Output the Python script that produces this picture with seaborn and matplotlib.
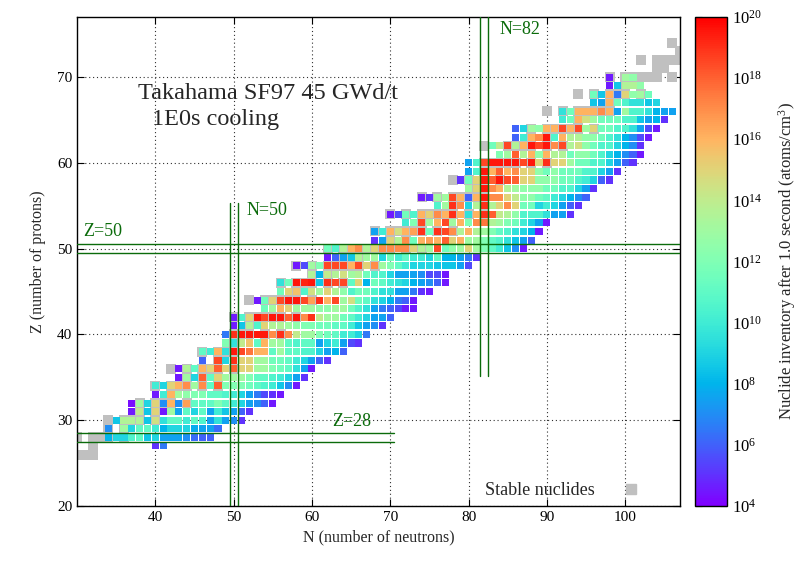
import numpy as np
import pandas as pd
import matplotlib
matplotlib.use("Agg")
import matplotlib.pyplot as plt
import seaborn as sns
from matplotlib.colors import LogNorm
from matplotlib.lines import Line2D
from matplotlib.ticker import FixedLocator, NullFormatter
import matplotlib.cm as cm

# ---------------- data (log10 of inventory, atoms/cm^3) ----------------
row_z = [27, 28, 29, 30, 31, 32, 33, 34, 35, 36, 37, 38, 39, 40, 41, 42, 43, 44,
         45, 46, 47, 48, 49, 50, 51, 52, 53, 54, 55, 56, 57, 58, 59, 60, 61, 62,
         63, 64, 65, 66, 67, 68, 69, 70]
row_n_start = [40, 34, 34, 35, 37, 37, 40, 40, 43, 43, 46, 46, 49, 49, 50, 50, 54, 53,
               56, 56, 60, 58, 62, 62, 68, 68, 72, 70, 76, 74, 80, 79, 80, 80, 84, 83,
               86, 86, 92, 92, 96, 96, 98, 98]
row_log_inventory = [
    [5, 6.5],
    [8, 9, 9, 10.5, 11, 8.5, 9, 7.5, 7.5, 7.5, 7, 6.2, 6, 6],
    [7, None, 13, 9, 11, 11, 10, 8, 9, 9, 9, 7.8, 7.5, 7.5, 6.3],
    [8.5, 13.5, 13.5, 13.5, 8.5, 14.5, 9.5, 11, 11, 10, 11, 10.5, 7.5, 9.5, 7.5, 7, 5],
    [4.5, 14, 8.5, 15, 4.5, 13, 7.5, 11, 9, 11, 7.5, 10, 8.5, 7.5, 6, 5],
    [4.3, 13, 9, 15, 7, 16, 7, 16.5, 11, 11, 11, 12, 11, 10, 9, 7.5, 7, 6, 4.5],
    [4.5, 10, 16, 13, 12.5, 12, 12, 11, 11, 10.5, 10, 9, 7.5, 6.5, 5.5, 5, 4.5],
    [10, 9, 15, 16, 17, 13, 17, 11, 18, 12, 12, 12, 11.5, 11, 10.5, 10, 8.5, 7, 4.5],
    [4.5, 13, 9, 18, 11, 15, 13, 13, 13, 12, 11, 11, 10.5, 10, 9, 7.5, 5],
    [4.5, 13.5, 11, 16, 15, 18, 15, 18, 15, 15, 13, 13, 12, 11.5, 11, 9.5, 7.5, 4.5],
    [6, None, 18.5, 9, 19, 15, 15, 13, 13, 11.5, 11.5, 11, 10, 9, 7.5, 6, 5],
    [11, 10, 16, 9.5, 19.5, 18.5, 17.5, 16, 16, 11, 13, 11, 11, 10.5, 10.5, 9, 7.5, 8, 6],
    [12, 9.5, 14, 15.5, 11, 16, 13, 13, 11, 10.5, 11, 11, 7.5, 9, 10, 7.5, 5.5, 5],
    [6.5, 19, 19.5, 19.5, 19.5, 19.5, 17, 19, 17, 14, 13, 13, 12, 11.5, 11, 10, 10, 9, 6.5],
    [4.5, 8.5, 13.5, 10.5, 15, 13.5, 13.5, 13, 12.5, 12, 12, 11.5, 11.5, 11, 11, 10, 8.5, 7.5, 7, 5],
    [4.5, 10.5, 15, 19.5, 18.5, 19.5, 19.5, 18, 19.5, 17, 19, 14, 13, 13, 11.5, 11, 10, 9, 7.5, 7.5, 6],
    [11.5, 13, 16, 15, 13, 13, 13, 12.5, 12.5, 13, 13, 11.5, 10.5, 9.5, 7.5, 6.5, 6, 5.5, 4.5, 4.5],
    [4.5, 11.5, 15, 18.5, 19.5, 19.5, 18.5, 16.5, 19, 16, 18.5, 13, 14.5, 11.5, 11, 9.5, 9, 8, 6.5, 6, 4.5],
    [11.5, 15, 15.5, 10.5, 14.5, 13, 15, 13.5, 12.5, 10.5, 11.5, 11.5, 10.5, 9.5, 9.5, 7.5, 7.5, 6.5, 5, 4.5],
    [9.5, 11.5, 19.5, 19.3, 19.5, 8.5, 19, 18.5, 18.5, 11, 15, 8, 11.5, 11, 10, 9.5, 9, 8, 7.5, 7, 6, 4.5],
    [13.5, 8, 14, 13.5, 14.5, 13, 13.5, 11.5, 10.5, 10.5, 9, 7.5, 7.5, 7.5, 7, 5.5, 5.5, 4.5],
    [4.5, 5.5, 13, 12, 18.5, 18.5, 18.5, 16, 18.5, 15, 17, 13, 12, 11, 10, 9, 9, 9, 8.5, 8.5, 8.5, 7.5, 5.5],
    [4.5, 6, 7.5, 8.5, 13.5, 13, 13, 9, 11.5, 10, 11, 10, 10, 9, 11, 8, 8, 7.5, 6.5, 5],
    [11.5, 10.5, 13.5, 16, 17, 13.5, 15, 17, 17, 17, 17, 15, 13.5, 13, 18.5, 11.5, 12.5, 13, 15, 13, 12, 11, 10, 8.5, 7, 4.5],
    [5, 7.5, 15, 13.5, 17, 11.5, 16, 16.5, 16, 18, 15, 16, 13, 13, 12, 11, 10.5, 9.5, 8.5, 7.5, 6],
    [7.5, 10, 16, 14.5, 16, 16.5, 19, 11.5, 19, 18.5, 17, 13.5, 16, 13.5, 13, 12, 11, 10.5, 9.5, 9, 8, 4.5],
    [10, 12, 18.5, 13, 16, 18.5, 13, 16, 12, 17, 17.5, 13.5, 13, 12, 11.5, 10, 9, 7.5, 4.5],
    [4.5, 5.5, 11.5, 10.5, 16, 15, 17, 16, 19, 16, 9.5, 16, 19, 18, 14, 13.5, 12.5, 10.5, 10.5, 10.5, 9.5, 7.5, 7.5, 5],
    [10.5, 13, 19, 17, 9, 13.5, 19, 13.5, 15, 17, 15, 11.5, 11.5, 9, 10, 9, 7.5, 6, 5],
    [4.5, 5, 13, 13, 18.5, 16, 6, 16, 19.5, 17, 17, 15, 14, 12.5, 12.5, 11.5, 11, 10, 9, 8, 7, 6],
    [13, 15, 19.5, 17, 16, 13.5, 13, 12.5, 12.5, 12.5, 11.5, 11.5, 10.5, 10.5, 9, 7.5, 5],
    [5, 11.5, 15, 19.5, 18, 19.5, 18.5, 18, 15, 15, 12.5, 12.5, 12.5, 11.5, 11.5, 10.5, 10, 9, 6, 5],
    [7.5, 10.5, 19.5, 16, 18, 16, 17, 15, 15, 12.5, 11.5, 12.5, 11.5, 11.5, 11.5, 10.5, 10.5, 9, 7.5, 5],
    [7.5, 10.5, 18.5, 19.5, 19.5, 19.5, 19.5, 18.5, 19.5, 15, 19, 15, 15, 13, 11.5, 11.5, 10.5, 10.5, 9, 7.5, 6, 5],
    [12, 13, 18, 13.5, 16, 12.5, 16, 13.5, 13.5, 11.5, 12.5, 12.5, 11.5, 10.5, 9, 8, 7, 6, 4.5],
    [11.5, 14, 18.5, 13.5, 16, 19.5, 18.5, 19.5, 17, 18.5, 13.5, 14.5, 12.5, 11.5, 10.5, 10.5, 9, 8, 7, 5],
    [6, 10, 16, 17, 19.5, 10.5, 16, 13.5, 13.5, 12.5, 12.5, 11.5, 10.5, 9.5, 8, 7, 5.5, 4.5],
    [6, 9, 13, 12.5, 16, 16, 18.5, 16, 18.5, 13, 15, 11.5, 11.5, 10.5, 10.5, 9.5, 7.5, 5.5, 4.5],
    [10, 11.5, 16, 14.5, 13, 11.5, 11.5, 11.5, 10.5, 10.5, 8.5, 7.5, 8, 5],
    [9.5, 11.5, 16, 16, 16, 17, 16, 7.5, 13, 10.5, 10.5, 9.5, 8, 7.5, 7.5],
    [8.5, 7.5, 16, 11.5, 10.5, 9.5, 9.5, 8.5, 9],
    [11.5, 8.5, 16, 6.5, 15, 12.5, 13, 11.5],
    [4.5, 8.5, 13.5, 13.5, 12.5],
    [4.5, None, 13, 12.5],
]

stable_z = [26, 27, 28, 29, 30, 31, 32, 33, 34, 35, 36, 37, 38, 39, 40, 41, 42, 44,
            45, 46, 47, 48, 49, 50, 51, 52, 53, 54, 55, 56, 57, 58, 59, 60, 62, 63,
            64, 65, 66, 67, 68, 69, 70, 71, 72, 73, 74]
stable_n = [
    [30, 31, 32], [32], [30, 32, 33, 34, 36], [34, 36], [34, 36, 37, 38, 40],
    [38, 40], [38, 40, 41, 42, 44], [42], [40, 42, 43, 44, 46, 48], [44, 46],
    [42, 44, 46, 47, 48, 50], [48], [46, 48, 49, 50], [50], [50, 51, 52, 54, 56],
    [52], [50, 52, 53, 54, 55, 56, 58], [52, 54, 55, 56, 57, 58, 60], [58],
    [56, 58, 59, 60, 62, 64], [60, 62], [58, 60, 62, 63, 64, 65, 66, 68], [64, 66],
    [62, 64, 65, 66, 67, 68, 69, 70, 72, 74], [70, 72],
    [68, 70, 71, 72, 73, 74, 76, 78], [74], [70, 72, 74, 75, 76, 77, 78, 80, 82],
    [78], [74, 76, 78, 79, 80, 81, 82], [81, 82], [78, 80, 82, 84], [82],
    [82, 83, 84, 85, 86, 88, 90], [82, 85, 86, 87, 88, 90, 92], [88, 90],
    [88, 90, 91, 92, 93, 94, 96], [94], [90, 92, 94, 95, 96, 97, 98], [98],
    [94, 96, 98, 99, 100, 102], [100], [98, 100, 101, 102, 103, 104, 106],
    [104, 105], [102, 104, 105, 106, 107], [107], [106],
]

x_ticks = [40, 50, 60, 70, 80, 90, 100]
y_ticks = [20, 30, 40, 50, 60, 70]
cb_exponents = [4, 6, 8, 10, 12, 14, 16, 18, 20]

# ---------------- tables ----------------
recs = []
for z, n0, vals in zip(row_z, row_n_start, row_log_inventory):
    for i, v in enumerate(vals):
        if v is not None:
            recs.append((n0 + i, z, v))
cells = pd.DataFrame(recs, columns=["N", "Z", "logv"])

srecs = []
for z, ns in zip(stable_z, stable_n):
    for n in ns:
        srecs.append((n, z))
stable = pd.DataFrame(srecs, columns=["N", "Z"])

# ---------------- style ----------------
sns.set_theme(style="white")
plt.rcParams['font.family'] = ['Liberation Serif', 'DejaVu Serif']
plt.rcParams['mathtext.fontset'] = 'custom'
plt.rcParams['mathtext.rm'] = 'Liberation Serif'
plt.rcParams['mathtext.it'] = 'Liberation Serif:italic'

GREEN = '#0b6b0b'
GRAY = '#c0c0c0'

fig = plt.figure(figsize=(8.05, 5.61), dpi=100)
ax = fig.add_axes([77 / 805, 55 / 561, 603 / 805, 489 / 561])
cax = fig.add_axes([695 / 805, 55 / 561, 32 / 805, 489 / 561])

sns.scatterplot(data=stable, x="N", y="Z", marker="s", s=48, color=GRAY,
                linewidth=0, ax=ax, legend=False, zorder=2)
sns.scatterplot(data=cells, x="N", y="Z", hue="logv", palette="rainbow",
                hue_norm=(4, 20), marker="s", s=26, linewidth=0, ax=ax,
                legend=False, zorder=3)

# magic number lines
for zz in (27.5, 28.5):
    ax.plot([30, 70.5], [zz, zz], color=GREEN, lw=1.0, zorder=4)
for zz in (49.5, 50.5):
    ax.plot([30, 107], [zz, zz], color=GREEN, lw=1.0, zorder=4)
for nn in (49.5, 50.5):
    ax.plot([nn, nn], [20, 55.3], color=GREEN, lw=1.0, zorder=4)
for nn in (81.5, 82.5):
    ax.plot([nn, nn], [35.2, 77], color=GREEN, lw=1.0, zorder=4)

ax.text(65.1, 29.9, "Z=28", color=GREEN, ha="center", va="center", fontsize=13)
ax.text(33.3, 52.0, "Z=50", color=GREEN, ha="center", va="center", fontsize=13)
ax.text(54.3, 54.4, "N=50", color=GREEN, ha="center", va="center", fontsize=13)
ax.text(86.5, 75.6, "N=82", color=GREEN, ha="center", va="center", fontsize=13)

ax.text(37.8, 68.1, "Takahama SF97 45 GWd/t", ha="left", va="center", fontsize=17.5)
ax.text(39.6, 65.0, "1E0s cooling", ha="left", va="center", fontsize=17.5)

ax.set_xlim(30, 107)
ax.set_ylim(20, 77)
ax.set_xticks(x_ticks)
ax.set_yticks(y_ticks)
ax.set_xlabel("N (number of neutrons)", fontsize=11.5, labelpad=4)
ax.set_ylabel("Z (number of protons)", fontsize=11.5, labelpad=8)
ax.set_axisbelow(True)
ax.grid(True, linestyle=(0, (1, 2.5)), color="#303030", linewidth=0.8)
ax.tick_params(direction="in", length=5, width=0.8, labelsize=11,
               bottom=True, left=True, top=True, right=True, colors="black")
for sp in ax.spines.values():
    sp.set_color("black")
    sp.set_linewidth(1.0)

leg = ax.legend(handles=[Line2D([], [], marker="s", ls="", color=GRAY, markersize=7)],
                labels=["Stable nuclides"], loc="lower right", markerfirst=False,
                frameon=False, fontsize=13, handlelength=1.0, handletextpad=1.5,
                borderpad=0, borderaxespad=0,
                bbox_to_anchor=((640 - 77) / 603, (506 - 499) / 489))

# colorbar
sm = cm.ScalarMappable(norm=LogNorm(1e4, 1e20), cmap="rainbow")
cb = fig.colorbar(sm, cax=cax)
cb.set_ticks([10.0 ** k for k in cb_exponents])
cb.set_ticklabels([r"$10^{%d}$" % k for k in cb_exponents])
cax.yaxis.set_minor_locator(FixedLocator([10.0 ** k for k in range(5, 20, 2)]))
cax.yaxis.set_minor_formatter(NullFormatter())
cax.tick_params(which="both", direction="in", left=True, right=True, width=0.8,
                labelsize=12, colors="black")
cax.tick_params(which="major", length=5)
cax.tick_params(which="minor", length=5)
cb.outline.set_linewidth(1.0)
cb.outline.set_edgecolor("black")
cb.set_label(r"Nuclide inventory after 1.0 second (atoms/cm$^3$)", fontsize=12, labelpad=10)

fig.savefig("out.png", dpi=100)
